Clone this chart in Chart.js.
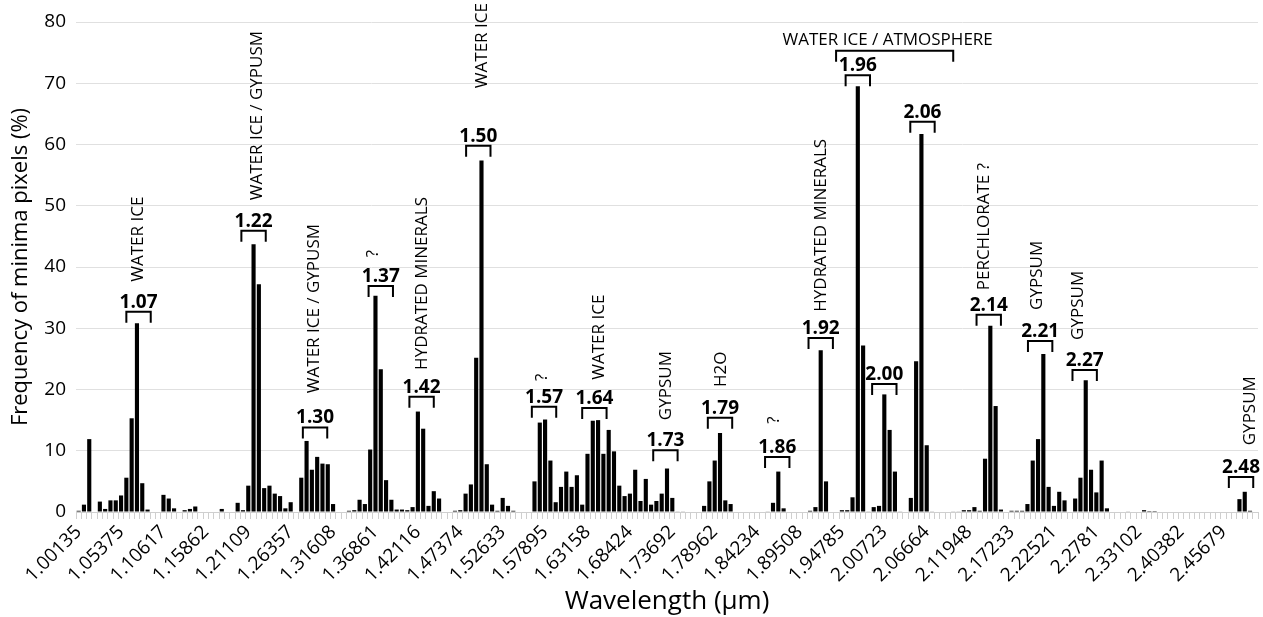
<!DOCTYPE html>
<html lang="en">
<head>
    <meta charset="UTF-8">
    <title>Frequency of minima pixels</title>
    <script src="https://cdn.jsdelivr.net/npm/chart.js"></script>
    <style>
        html, body { margin: 0; padding: 0; background: #fff; }
        #wrap { width: 1263px; height: 617px; }
    </style>
</head>
<body>
    <div id="wrap"><canvas id="minimaChart" width="1263" height="617"></canvas></div>

    <script>
        // tick labels shown on the x axis (one every 8 channels)
        const tickLabels = [
            "1.00135", "1.05375", "1.10617", "1.15862", "1.21109", "1.26357", "1.31608",
            "1.36861", "1.42116", "1.47374", "1.52633", "1.57895", "1.63158", "1.68424",
            "1.73692", "1.78962", "1.84234", "1.89508", "1.94785", "2.00723", "2.06664",
            "2.11948", "2.17233", "2.22521", "2.2781", "2.33102", "2.40382", "2.45679"
        ];
        const labelEvery = 8;

        // frequency of minima pixels (%) per channel
        const minimaFreq = [
            0.2, 1.2, 11.9, 0, 1.7, 0.5, 1.9, 1.9, 2.7, 5.6,
            15.3, 30.8, 4.7, 0.4, 0, 0, 2.8, 2.2, 0.6, 0,
            0.3, 0.5, 0.9, 0, 0, 0, 0, 0.5, 0, 0,
            1.5, 0.3, 4.3, 43.7, 37.2, 3.9, 4.3, 3.0, 2.6, 0.6,
            1.6, 0, 5.6, 11.6, 6.9, 9.0, 7.9, 7.8, 1.3, 0,
            0, 0.2, 0.3, 2.0, 1.3, 10.2, 35.3, 23.3, 5.2, 2.0,
            0.4, 0.4, 0.3, 0.8, 16.4, 13.6, 1.0, 3.4, 2.2, 0,
            0, 0.2, 0.3, 3.0, 4.5, 25.2, 57.4, 7.8, 1.2, 0.2,
            2.3, 1.0, 0.2, 0, 0, 0, 5.0, 14.6, 15.1, 8.4,
            1.6, 4.1, 6.6, 4.1, 6.0, 1.2, 9.5, 14.9, 15.0, 9.5,
            13.4, 9.9, 4.3, 2.6, 3.0, 6.9, 1.8, 5.4, 1.2, 1.8,
            3.0, 7.1, 2.3, 0.1, 0.1, 0, 0, 0, 1.0, 5.0,
            8.4, 12.9, 1.9, 1.3, 0, 0, 0, 0, 0, 0,
            0.1, 1.5, 6.6, 0.6, 0, 0, 0, 0, 0.2, 0.8,
            26.4, 5.0, 0, 0, 0.3, 0.3, 2.4, 69.5, 27.2, 0.1,
            0.8, 1.0, 19.2, 13.4, 6.6, 0.1, 0, 2.3, 24.6, 61.7,
            10.9, 0.1, 0, 0, 0, 0.1, 0.1, 0.3, 0.3, 0.8,
            0.2, 8.7, 30.4, 17.3, 0.4, 0, 0.2, 0.2, 0.2, 1.3,
            8.4, 11.9, 25.8, 4.1, 1.0, 3.3, 1.9, 0, 2.2, 5.6,
            21.5, 6.9, 3.2, 8.4, 0.6, 0, 0, 0, 0.1, 0,
            0, 0.3, 0.15, 0.15, 0, 0, 0, 0, 0, 0,
            0, 0, 0, 0, 0, 0, 0, 0, 0, 2.1,
            3.3, 0.2, 0
        ];

        // band labels: [text, channel index of centre, value of bracket top]
        const bandLabels = [
            ["1.07", 11.3, 32.7], ["1.22", 33.0, 45.9], ["1.30", 44.6, 13.8],
            ["1.37", 57.0, 36.9], ["1.42", 64.7, 18.8], ["1.50", 75.4, 59.8],
            ["1.57", 87.8, 17.2], ["1.64", 97.3, 17.0], ["1.73", 110.7, 10.1],
            ["1.79", 121.0, 15.4], ["1.86", 131.8, 9.0], ["1.92", 140.0, 28.4],
            ["1.96", 147.0, 71.3], ["2.00", 152.0, 20.9], ["2.06", 159.2, 63.7],
            ["2.14", 171.7, 32.2], ["2.21", 181.4, 27.9], ["2.27", 189.8, 23.2],
            ["2.48", 219.3, 5.7]
        ];

        // vertical notes: [text, channel index, value where the text starts]
        const notes = [
            ["WATER ICE", 11.2, 37.6], ["WATER ICE / GYPUSM", 33.7, 50.9],
            ["WATER ICE / GYPUSM", 44.4, 19.4], ["?", 55.5, 41.6],
            ["HYDRATED MINERALS", 64.9, 23.2], ["WATER ICE", 76.2, 69.2],
            ["?", 87.4, 21.4], ["WATER ICE", 98.2, 21.6], ["GYPSUM", 110.8, 15.0],
            ["H2O", 121.2, 20.4], ["?", 131.2, 14.4], ["HYDRATED MINERALS", 140.0, 32.7],
            ["PERCHLORATE ?", 170.9, 36.2], ["GYPSUM", 180.8, 33.0],
            ["GYPSUM", 188.6, 28.1], ["GYPSUM", 221.0, 10.9]
        ];

        // wide bracket over 1.96 - 2.06
        const wideBracket = { text: "WATER ICE / ATMOSPHERE", from: 142.9, to: 165.0, top: 75.3 };

        const labels = minimaFreq.map((v, i) => i % labelEvery === 0 ? (tickLabels[i / labelEvery] || "") : "");
        const FONT = "'Open Sans', 'DejaVu Sans', sans-serif";

        const annotationPlugin = {
            id: 'bandAnnotations',
            afterDatasetsDraw(chart) {
                const { ctx, scales: { x, y } } = chart;
                const halfW = 2.3;
                const leg = 11;
                ctx.save();
                ctx.strokeStyle = '#000';
                ctx.fillStyle = '#000';
                ctx.lineWidth = 2;

                function bracket(x0, x1, yTop) {
                    ctx.beginPath();
                    ctx.moveTo(x0, yTop + leg);
                    ctx.lineTo(x0, yTop);
                    ctx.lineTo(x1, yTop);
                    ctx.lineTo(x1, yTop + leg);
                    ctx.stroke();
                }

                bandLabels.forEach(([text, idx, v]) => {
                    const cx = x.getPixelForValue(idx);
                    const yTop = y.getPixelForValue(v);
                    bracket(x.getPixelForValue(idx - halfW), x.getPixelForValue(idx + halfW), yTop);
                    ctx.font = `bold 19px ${FONT}`;
                    ctx.textAlign = 'center';
                    ctx.textBaseline = 'alphabetic';
                    ctx.fillText(text, cx, yTop - 4);
                });

                const wb = wideBracket;
                const wy = y.getPixelForValue(wb.top);
                bracket(x.getPixelForValue(wb.from), x.getPixelForValue(wb.to), wy);
                ctx.font = `17px ${FONT}`;
                ctx.textAlign = 'center';
                ctx.fillText(wb.text, x.getPixelForValue((wb.from + wb.to) / 2) - 7, wy - 6);

                notes.forEach(([text, idx, v]) => {
                    ctx.save();
                    ctx.translate(x.getPixelForValue(idx), y.getPixelForValue(v));
                    ctx.rotate(-Math.PI / 2);
                    ctx.font = `17px ${FONT}`;
                    ctx.textAlign = 'left';
                    ctx.textBaseline = 'middle';
                    ctx.fillText(text, 0, 0);
                    ctx.restore();
                });
                ctx.restore();
            }
        };

        const ctx = document.getElementById('minimaChart').getContext('2d');
        new Chart(ctx, {
            type: 'bar',
            data: {
                labels: labels,
                datasets: [{
                    data: minimaFreq,
                    backgroundColor: '#000',
                    borderWidth: 0,
                    barPercentage: 0.78,
                    categoryPercentage: 1.0
                }]
            },
            options: {
                responsive: false,
                animation: false,
                layout: { padding: { top: 22, right: 5, left: 0, bottom: 0 } },
                plugins: { legend: { display: false }, tooltip: { enabled: false } },
                scales: {
                    x: {
                        grid: { offset: true, drawOnChartArea: false, color: '#cfcfcf', tickLength: 7 },
                        border: { color: '#cfcfcf' },
                        ticks: {
                            autoSkip: false, maxRotation: 45, minRotation: 45,
                            color: '#000', padding: 2,
                            font: { family: FONT, size: 19 }
                        },
                        title: {
                            display: true, text: 'Wavelength (µm)', color: '#000',
                            font: { family: FONT, size: 26 }, padding: { top: 0, bottom: 0 }
                        },
                        afterFit: (s) => {
                            s.height = 105;
                            // rotated labels hang to the left only; no extra room needed on the right
                            s.paddingRight = 0;
                            s.paddingLeft = 0;
                        }
                    },
                    y: {
                        min: 0, max: 80,
                        ticks: { stepSize: 10, color: '#000', padding: 10, font: { family: FONT, size: 19 } },
                        grid: { color: '#e0e0e0', drawTicks: false },
                        border: { display: false },
                        title: {
                            display: true, text: 'Frequency of minima pixels (%)', color: '#000',
                            font: { family: FONT, size: 22 }, padding: { top: 8, bottom: 0 }
                        },
                        afterFit: (s) => { s.width = 76; }
                    }
                }
            },
            plugins: [annotationPlugin]
        });
    </script>
</body>
</html>
